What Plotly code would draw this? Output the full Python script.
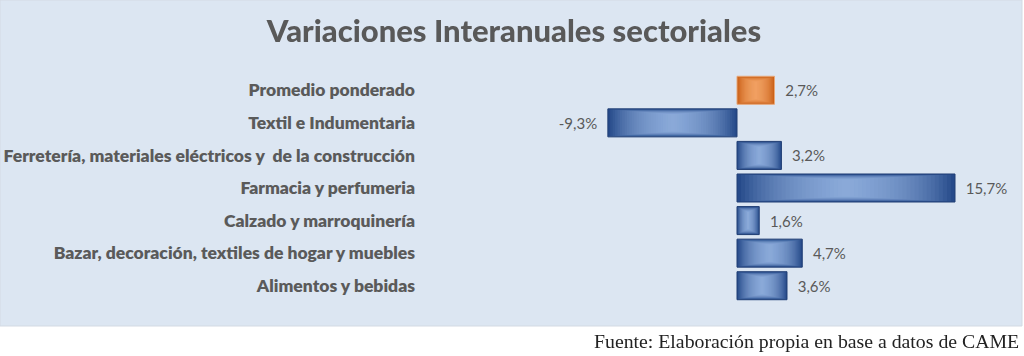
import plotly.graph_objects as go

title = "Variaciones Interanuales sectoriales"
categories = [
    "Promedio ponderado",
    "Textil e Indumentaria",
    "Ferretería, materiales eléctricos y  de la construcción",
    "Farmacia y perfumeria",
    "Calzado y marroquinería",
    "Bazar, decoración, textiles de hogar y muebles",
    "Alimentos y bebidas",
]
values = [2.7, -9.3, 3.2, 15.7, 1.6, 4.7, 3.6]
source = "Fuente: Elaboración propia en base a datos de CAME"

is_avg = [c == "Promedio ponderado" for c in categories]
edge_colors = ["#c95f16" if a else "#264a8a" for a in is_avg]
glow_colors = ["#ffb276" if a else "#a2bfee" for a in is_avg]
line_colors = ["#e8a878" if a else "#213f75" for a in is_avg]

labels = []
for v in values:
    s = f"{abs(v):.1f}".replace(".", ",") + "%"
    labels.append("-" + s + "\u00a0\u00a0" if v < 0 else "\u00a0\u00a0" + s)

W, H = 1024, 356
L, R, T, B = 420, 24, 74, 54
pw, ph = W - L - R, H - T - B

fig = go.Figure()
fig.add_trace(go.Bar(
    y=categories, x=values, orientation="h", width=0.86,
    marker=dict(color=edge_colors, line=dict(color=line_colors, width=1)),
    text=labels, textposition="outside", cliponaxis=False,
    textfont=dict(family="Lato, Arial", size=15, color="#595959"),
    hoverinfo="skip", showlegend=False,
))
# smooth gradient-like glow: many translucent layers centred on each bar
n_layers = 26
for k in range(1, n_layers + 1):
    frac = 1 - k / (n_layers + 1)
    fig.add_trace(go.Bar(
        y=categories, x=[v * frac for v in values], base=[v * (1 - frac) / 2 for v in values],
        orientation="h", width=0.84 - 0.012 * k,
        marker=dict(color=glow_colors, line=dict(width=0)),
        opacity=0.07, hoverinfo="skip", showlegend=False,
    ))

ppu = (955 - 737) / 15.7
x0 = (L - 737) / ppu
x1 = (L + pw - 737) / ppu

fig.update_layout(
    width=W, height=H, barmode="overlay",
    margin=dict(l=L, r=R, t=T, b=B, autoexpand=False),
    paper_bgcolor="white", plot_bgcolor="rgba(0,0,0,0)",
    title=dict(text=title, x=514 / W, xanchor="center", y=1 - 31 / H, yanchor="middle",
               font=dict(family="Lato, Arial", size=31, color="#595959", weight=900)),
    xaxis=dict(range=[x0, x1], showgrid=False, zeroline=False, showticklabels=False, showline=False,
               automargin=False),
    yaxis=dict(range=[6.5, -0.5], showgrid=False, zeroline=False, showline=False, ticks="",
               tickfont=dict(family="Lato, Arial", size=17.5, color="#5a5a5a", weight=800),
               ticklabelstandoff=4, automargin=False,
               categoryorder="array", categoryarray=categories),
    shapes=[dict(type="rect", xref="paper", yref="paper", layer="below",
                 x0=(0 - L) / pw, x1=(1022 - L) / pw,
                 y0=(H - B - 326) / ph, y1=(H - B - 0) / ph,
                 fillcolor="#dce6f2", line=dict(color="#d3dae3", width=1))],
    annotations=[dict(text=source, xref="paper", yref="paper", x=(1021 - L) / pw, xanchor="right",
                      y=(H - B - 341) / ph, yanchor="middle", showarrow=False,
                      font=dict(family="Liberation Serif, Times New Roman", size=19.8, color="#222222"))],
)

fig.write_html("out.html", config={"displayModeBar": False},
               post_script="document.body.style.margin='0';document.body.style.padding='0';")
